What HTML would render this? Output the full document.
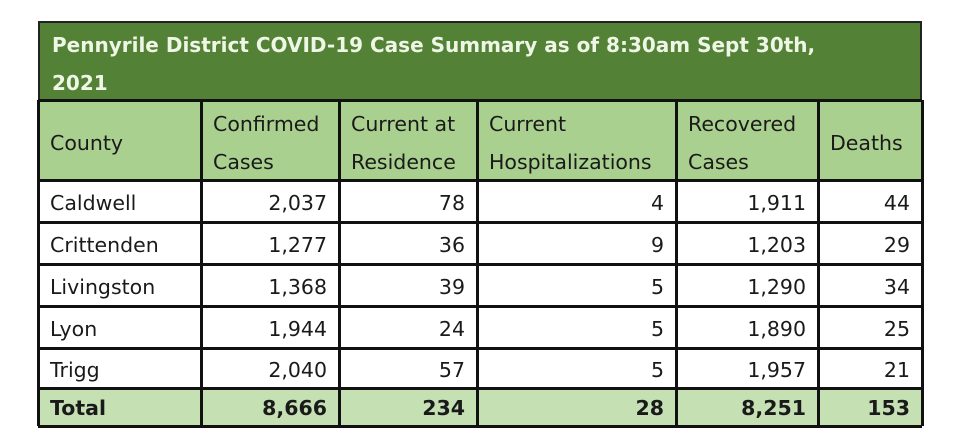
<!DOCTYPE html>
<html><head><meta charset="utf-8"><style>
body{margin:0;width:960px;height:444px;background:#fff;position:relative;overflow:hidden;font-family:"DejaVu Sans","Liberation Sans",sans-serif;color:#1a1a1a}
.b{position:absolute;box-sizing:border-box}
.title{left:38px;top:21px;width:884px;height:80px;background:#538135;border:2px solid #222;color:#eef6e6;font-weight:bold;font-size:20px;line-height:38px;padding:3px 0 0 12px}
.c{position:absolute;box-sizing:border-box;font-size:20.5px;display:flex;align-items:center;padding:2px 12px 0 12px}
.r{justify-content:flex-end}
.grid{position:absolute;background:#111}
</style></head><body>
<div class="b title">Pennyrile District COVID-19 Case Summary as of 8:30am Sept 30th,<br>2021</div>
<div class="b" style="left:38px;top:100px;width:884px;height:80px;background:#a9d08e"></div>
<div class="b" style="left:38px;top:388px;width:884px;height:38px;background:#c5e0b3"></div>
<div id="t"></div>
<script>
const xs=[38,201,339,477,676,818,922];
const ys=[100,180,222,264,306,348,388,426];
let h='';
for(const x of xs)h+=`<div class="grid" style="left:${x-1}px;top:100px;width:3px;height:326px"></div>`;
for(const y of ys)h+=`<div class="grid" style="left:38px;top:${y-1}px;width:884px;height:3px"></div>`;
const hdr=[['County'],['Confirmed','Cases'],['Current at','Residence'],['Current','Hospitalizations'],['Recovered','Cases'],['Deaths']];
hdr.forEach((t,i)=>{h+=`<div class="c" style="left:${xs[i]}px;top:100px;width:${xs[i+1]-xs[i]}px;height:80px;line-height:38px;${t.length==1?'padding-top:6px':'align-items:flex-start;padding-top:5px'}"><div>${t.join('<br>')}</div></div>`});
const rows=[['Caldwell','2,037','78','4','1,911','44'],['Crittenden','1,277','36','9','1,203','29'],['Livingston','1,368','39','5','1,290','34'],['Lyon','1,944','24','5','1,890','25'],['Trigg','2,040','57','5','1,957','21'],['Total','8,666','234','28','8,251','153']];
rows.forEach((r,j)=>r.forEach((t,i)=>{h+=`<div class="c ${i?'r':''}" style="left:${xs[i]}px;top:${ys[j+1]}px;width:${xs[i+1]-xs[i]}px;height:${ys[j+2]-ys[j+1]}px;${j==5?'font-weight:bold':'padding-top:4px'}">${t}</div>`}));
document.getElementById('t').innerHTML=h;
</script>
</body></html>
